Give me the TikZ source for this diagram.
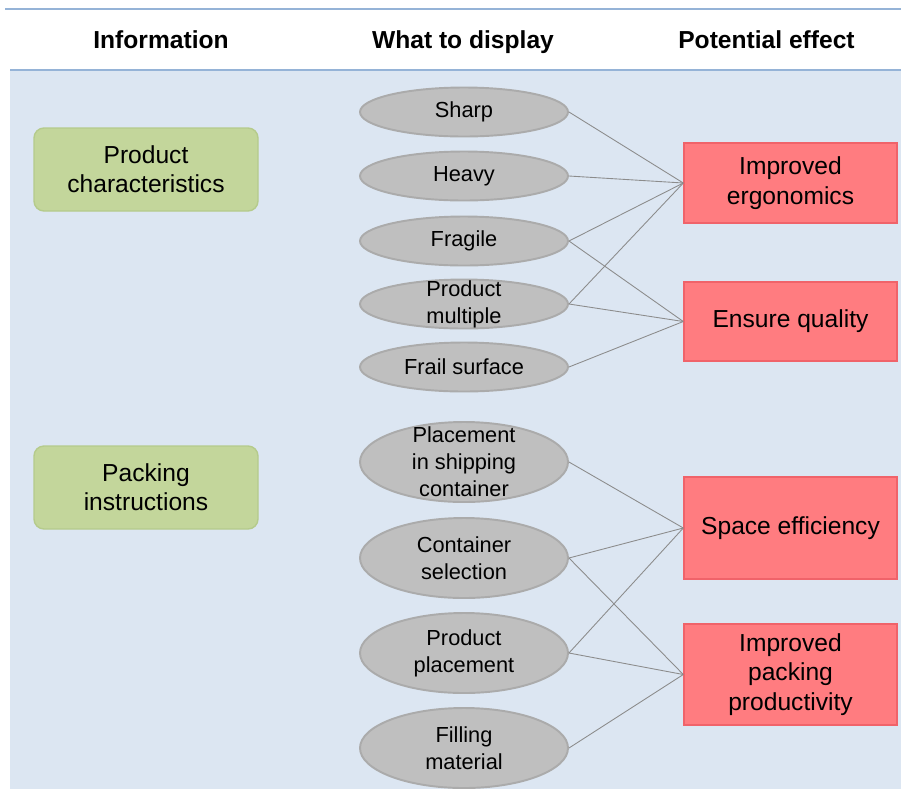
\documentclass[tikz,border=0pt]{standalone}
\usepackage{fontspec}
\setmainfont{Liberation Sans}
\usetikzlibrary{shapes.geometric}
\definecolor{fond}{HTML}{DCE6F2}
\definecolor{filet}{HTML}{95B3D7}
\definecolor{vert}{HTML}{C3D69B}
\definecolor{vertbord}{HTML}{B5CB8C}
\definecolor{gris}{HTML}{BFBFBF}
\definecolor{grisbord}{HTML}{ABABAB}
\definecolor{rouge}{HTML}{FF7C80}
\definecolor{rougebord}{HTML}{F0636A}
\begin{document}
\begin{tikzpicture}
			\tikzset{titre/.style={font=\fontsize{14}{16}\selectfont\bfseries, text height=0.75em, text depth=0.25em},
				info/.style={rectangle, rounded corners=0.2cm, fill=vert, draw=vertbord, line width=0.8pt, minimum width=4.48cm, minimum height=1.66cm, align=center, font=\fontsize{14}{16.5}\selectfont},
				choix/.style={ellipse, fill=gris, draw=grisbord, line width=1.1pt, inner xsep=0pt, inner ysep=0pt, minimum width=4.16cm, minimum height=0.98cm, align=center, font=\fontsize{12.4}{15.3}\selectfont},
				effet/.style={rectangle, fill=rouge, draw=rougebord, line width=0.8pt, minimum width=4.26cm, align=center, font=\fontsize{14}{17}\selectfont},
				lien/.style={draw=black!45, line width=0.5pt}};

			\useasboundingbox (0,0) rectangle (18.02,-15.78);
			\fill[fond] (0.2,-1.4) rectangle (18.02,-15.78);
			\draw[filet, line width=1pt] (0.1,-0.18) -- (18.02,-0.18);
			\draw[filet, line width=1pt] (0.2,-1.4) -- (18.02,-1.4);

			\node[titre] (t1) at ( 3.22, -0.88) {Information};
			\node[titre] (t2) at ( 9.26, -0.88) {What to display};
			\node[titre] (t3) at (15.33, -0.88) {Potential effect};

			\node[info] (pc) at (2.92, -3.39) {Product\\characteristics};
			\node[info] (pi) at (2.92, -9.75) {Packing\\instructions};

			\node[choix] (sharp)    at (9.28,  -2.24) {Sharp};
			\node[choix] (heavy)    at (9.28,  -3.52) {Heavy};
			\node[choix] (fragile)  at (9.28,  -4.82) {Fragile};
			\node[choix, inner ysep=-4pt] (multiple) at (9.28,  -6.08) {Product\\multiple};
			\node[choix] (frail)    at (9.28,  -7.34) {Frail surface};
			\node[choix, inner ysep=-5.5pt, minimum height=1.6cm] (placement) at (9.28,  -9.24) {Placement\\in shipping\\container};
			\node[choix, minimum height=1.6cm] (selection) at (9.28, -11.16) {Container\\selection};
			\node[choix, minimum height=1.6cm] (prodplace) at (9.28, -13.06) {Product\\placement};
			\node[choix, minimum height=1.6cm] (filling)   at (9.28, -14.96) {Filling\\material};

			\node[effet, minimum height=1.6cm]  (ergo)    at (15.81,  -3.66) {Improved\\ergonomics};
			\node[effet, minimum height=1.58cm] (quality) at (15.81,  -6.43) {Ensure quality};
			\node[effet, minimum height=2.04cm] (space)   at (15.81, -10.56) {Space efficiency};
			\node[effet, minimum height=2.02cm] (produc)  at (15.81, -13.49) {Improved\\packing\\productivity};

			\draw[lien] (sharp.east)    to (ergo.west);
			\draw[lien] (heavy.east)    to (ergo.west);
			\draw[lien] (fragile.east)  to (ergo.west);
			\draw[lien] (fragile.east)  to (quality.west);
			\draw[lien] (multiple.east) to (ergo.west);
			\draw[lien] (multiple.east) to (quality.west);
			\draw[lien] (frail.east)    to (quality.west);

			\draw[lien] (placement.east) to (space.west);
			\draw[lien] (selection.east) to (space.west);
			\draw[lien] (selection.east) to (produc.west);
			\draw[lien] (prodplace.east) to (space.west);
			\draw[lien] (prodplace.east) to (produc.west);
			\draw[lien] (filling.east)   to (produc.west);

		\end{tikzpicture}
\end{document}
